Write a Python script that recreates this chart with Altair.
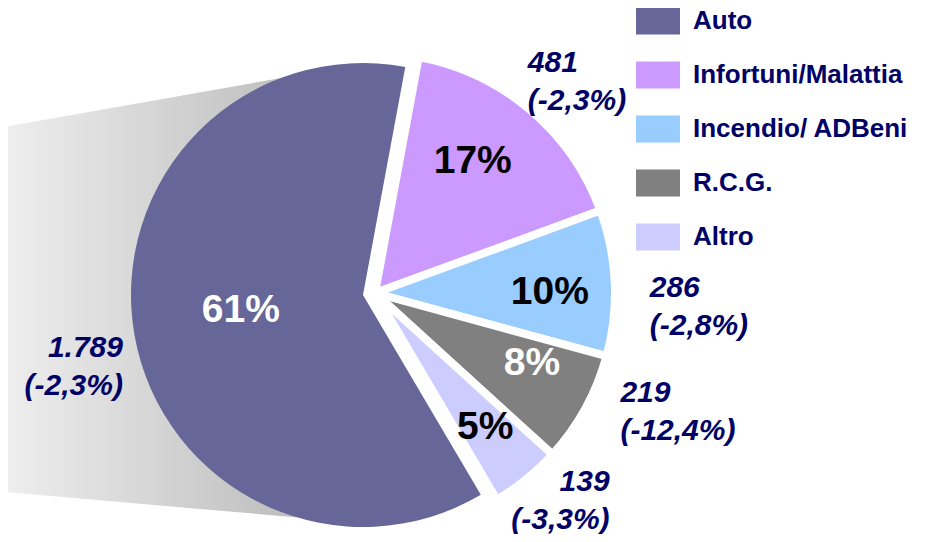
import math
import altair as alt
import pandas as pd

# ---- data ----
categories = ["Auto", "Infortuni/Malattia", "Incendio/ ADBeni", "R.C.G.", "Altro"]
premiums = [1789, 481, 286, 219, 139]
premium_labels = ["1.789", "481", "286", "219", "139"]
share_labels = ["61%", "17%", "10%", "8%", "5%"]
change_labels = ["(-2,3%)", "(-2,3%)", "(-2,8%)", "(-12,4%)", "(-3,3%)"]
pie_order = [5, 1, 2, 3, 4]  # clockwise from the top, Auto last

# ---- styles ----
colors = ["#666699", "#CC99FF", "#99CCFF", "#808080", "#CCCCFF"]
FONT = "Liberation Sans"
NAVY = "#000066"
START = math.radians(10.5)
theta_scale = alt.Scale(
    domain=[0, sum(premiums)], range=[START, START + 2 * math.pi], nice=False
)

df = pd.DataFrame({
    "cat": categories,
    "value": premiums,
    "pct": share_labels,
    "full": [a + "\n" + b for a, b in zip(premium_labels, change_labels)],
    "ord": pie_order,
})

base = alt.Chart(df).transform_window(
    cum="sum(value)", sort=[alt.SortField("ord")]
).transform_calculate(
    start="datum.cum - datum.value", mid="datum.cum - datum.value / 2"
)

# pie centres (Auto slice pulled out to the left)
AUTO_C = (355, 287)
REST_C = (367, 285)

color = alt.Color(
    "cat:N",
    scale=alt.Scale(domain=categories, range=colors),
    legend=alt.Legend(
        title=None, orient="none", legendX=628, legendY=-9, padding=0,
        symbolType="M-1,-0.614H1V0.614H-1Z", symbolSize=1936,
        symbolStrokeWidth=0, symbolOpacity=1,
        labelFont=FONT, labelFontSize=26, labelFontWeight="bold",
        labelColor=NAVY, labelOffset=13, labelLimit=400, rowPadding=18,
    ),
)

# grey gradient "shadow" behind the big slice
shadow = alt.Chart(alt.Data(values=[{"k": 1}])).mark_arc(
    outerRadius=1730,
    fill=alt.Gradient(
        gradient="linear", x1=0, x2=1, y1=0, y2=0,
        stops=[
            alt.GradientStop(color="#ffffff", offset=0),
            alt.GradientStop(color="#efefef", offset=0.798),
            alt.GradientStop(color="#b4b4b4", offset=1),
        ],
    ),
).encode(
    x=alt.value(-1388), y=alt.value(364),
    theta=alt.value(1.3956), theta2=alt.value(1.6573),
)

rest = base.transform_filter(alt.datum.cat != "Auto").mark_arc(
    outerRadius=240, stroke="white", strokeWidth=8, strokeJoin="round"
).encode(
    x=alt.value(REST_C[0]), y=alt.value(REST_C[1]),
    theta=alt.Theta("start:Q", scale=theta_scale), theta2="cum:Q",
    color=color,
)

auto = base.transform_filter(alt.datum.cat == "Auto").mark_arc(
    outerRadius=232
).encode(
    x=alt.value(AUTO_C[0]), y=alt.value(AUTO_C[1]),
    theta=alt.Theta("start:Q", scale=theta_scale), theta2="cum:Q",
    color=color,
)

# label placement: radius from the slice centre plus a small nudge
pct_place = {
    "Auto": (125, 1, -7, "white"),
    "Infortuni/Malattia": (170, -12, -2, "black"),
    "Incendio/ ADBeni": (170, 5, 6, "black"),
    "R.C.G.": (170, 8, -12, "white"),
    "Altro": (170, 3, 2, "black"),
}
val_place = {
    "Auto": (260, 16, 8, "right"),
    "Infortuni/Malattia": (280, -28, -16, "left"),
    "Incendio/ ADBeni": (280, -5, 7, "left"),
    "R.C.G.": (280, 0, -35, "left"),
    "Altro": (280, 58, -28, "right"),
}

texts = []
for cat in categories:
    c = AUTO_C if cat == "Auto" else REST_C
    r, dx, dy, col = pct_place[cat]
    texts.append(
        base.transform_filter(alt.datum.cat == cat).mark_text(
            font=FONT, fontSize=39, fontWeight="bold", color=col, dx=dx, dy=dy
        ).encode(
            x=alt.value(c[0]), y=alt.value(c[1]),
            theta=alt.Theta("mid:Q", scale=theta_scale), radius=alt.value(r),
            text="pct:N",
        )
    )
    r, dx, dy, al = val_place[cat]
    texts.append(
        base.transform_filter(alt.datum.cat == cat).mark_text(
            font=FONT, fontSize=30, fontWeight="bold", fontStyle="italic",
            color=NAVY, dx=dx, dy=dy, align=al, lineBreak="\n", lineHeight=38,
        ).encode(
            x=alt.value(c[0]), y=alt.value(c[1]),
            theta=alt.Theta("mid:Q", scale=theta_scale), radius=alt.value(r),
            text="full:N",
        )
    )

chart = alt.layer(shadow, rest, auto, *texts).properties(
    width=921, height=526, padding=0,
    autosize=alt.AutoSizeParams(type="none"),
).configure_view(stroke="transparent")

chart.save("out.html", embed_options={"renderer": "svg", "actions": False})
